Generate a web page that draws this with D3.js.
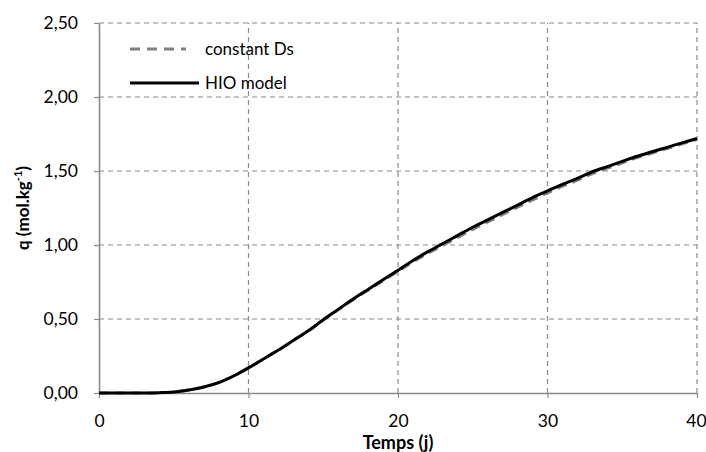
<!DOCTYPE html>
<html>
<head>
<meta charset="utf-8">
<script src="https://cdn.jsdelivr.net/npm/d3@7"></script>
<style>
  body { margin: 0; background: #fff; }
  svg text { font-family: Lato, "Open Sans", sans-serif; fill: #000; }
</style>
</head>
<body>
<svg id="chart"></svg>
<script>
// time (days)
var days = [0, 1, 2, 3, 4, 5, 6, 7, 8, 9, 10, 11, 12, 13, 14, 15, 16, 17, 18, 19, 20,
            21, 22, 23, 24, 25, 26, 27, 28, 29, 30, 31, 32, 33, 34, 35, 36, 37, 38, 39, 40];
// HIO model, q (mol/kg)
var hioModel = [0, 0, 0, 0, 0.002, 0.006, 0.02, 0.04, 0.07, 0.115, 0.17, 0.23, 0.29, 0.355, 0.42, 0.495,
                0.565, 0.635, 0.70, 0.765, 0.83, 0.895, 0.955, 1.01, 1.065, 1.12, 1.17, 1.22, 1.27, 1.32,
                1.365, 1.41, 1.45, 1.495, 1.53, 1.565, 1.60, 1.63, 1.66, 1.69, 1.72];
// constant Ds, q (mol/kg)
var constantDs = [0, 0, 0, 0, 0.002, 0.006, 0.02, 0.04, 0.07, 0.115, 0.17, 0.23, 0.29, 0.355, 0.42, 0.493,
                  0.562, 0.63, 0.695, 0.758, 0.822, 0.885, 0.944, 0.998, 1.052, 1.106, 1.156, 1.206, 1.256, 1.305,
                  1.352, 1.397, 1.438, 1.482, 1.519, 1.555, 1.59, 1.621, 1.652, 1.683, 1.714];
var xTicks = [0, 10, 20, 30, 40];
var yTicks = [0, 0.5, 1, 1.5, 2, 2.5];
var legendLabels = ["constant Ds", "HIO model"];

var width = 706, height = 452;
var leftBorder = 99, rightBorder = 9, topBorder = 23, botBorder = 59;
var gridColor = "#8a8a8a";

var svg = d3.select("#chart").attr("width", width).attr("height", height);

var x = d3.scaleLinear().domain([0, 40]).range([leftBorder, width - rightBorder]);
var y = d3.scaleLinear().domain([0, 2.5]).range([height - botBorder, topBorder]);

var fmt = function (d) { return d3.format(".2f")(d).replace(".", ","); };

// grid
svg.append("g")
    .selectAll("line")
    .data(yTicks.filter(d => d > 0))
    .join("line")
    .attr("x1", x(0)).attr("x2", x(40))
    .attr("y1", d => y(d)).attr("y2", d => y(d))
    .attr("stroke", gridColor).attr("stroke-width", 1.2)
    .attr("stroke-dasharray", "5,4");
svg.append("g")
    .selectAll("line")
    .data(xTicks.filter(d => d > 0))
    .join("line")
    .attr("x1", d => x(d)).attr("x2", d => x(d))
    .attr("y1", y(0)).attr("y2", y(2.5))
    .attr("stroke", gridColor).attr("stroke-width", 1.2)
    .attr("stroke-dasharray", "5,4");

// axes
var yAxis = svg.append("g")
    .attr("transform", "translate(" + leftBorder + ",0)")
    .call(d3.axisLeft(y).tickValues(yTicks).tickFormat(fmt).tickSizeInner(5).tickSizeOuter(0).tickPadding(16));
var xAxis = svg.append("g")
    .attr("transform", "translate(0," + (height - botBorder) + ")")
    .call(d3.axisBottom(x).tickValues(xTicks).tickFormat(d3.format("d")).tickSizeInner(5).tickSizeOuter(0).tickPadding(17));
[xAxis, yAxis].forEach(function (a) {
    a.select(".domain").attr("stroke", gridColor).attr("stroke-width", 1.6);
    a.selectAll(".tick line").attr("stroke", gridColor).attr("stroke-width", 1.2);
    a.selectAll("text").attr("font-size", 17.5).attr("font-family", "Lato, sans-serif");
});
// keep the last x label inside the frame
xAxis.selectAll(".tick text").filter(d => d === 40).attr("dx", "-1");

// series
var line = d3.line()
    .x((d, i) => x(days[i]))
    .y(d => y(d))
    .curve(d3.curveMonotoneX);
svg.append("path")
    .datum(constantDs)
    .attr("fill", "none")
    .attr("stroke", "#808080")
    .attr("stroke-width", 3)
    .attr("stroke-dasharray", "10,6")
    .attr("d", line);
svg.append("path")
    .datum(hioModel)
    .attr("fill", "none")
    .attr("stroke", "#000")
    .attr("stroke-width", 3)
    .attr("stroke-linejoin", "round")
    .attr("d", line);

// legend
var legend = svg.append("g");
legend.append("line")
    .attr("x1", 130).attr("x2", 186).attr("y1", 49).attr("y2", 49)
    .attr("stroke", "#808080").attr("stroke-width", 3).attr("stroke-dasharray", "10,7");
legend.append("text")
    .attr("x", 205).attr("y", 49).attr("dy", "0.35em")
    .attr("font-size", 17).text(legendLabels[0]);
legend.append("line")
    .attr("x1", 130).attr("x2", 199).attr("y1", 83).attr("y2", 83)
    .attr("stroke", "#000").attr("stroke-width", 3);
legend.append("text")
    .attr("x", 205).attr("y", 83).attr("dy", "0.35em")
    .attr("font-size", 17).text(legendLabels[1]);

// axis titles
svg.append("text")
    .attr("x", (x(0) + x(40)) / 2).attr("y", 449)
    .attr("text-anchor", "middle")
    .attr("font-size", 18).attr("font-weight", "bold")
    .text("Temps (j)");
var yTitle = svg.append("text")
    .attr("transform", "translate(29," + ((y(0) + y(2.5)) / 2) + ")rotate(-90)")
    .attr("text-anchor", "middle")
    .attr("font-size", 17).attr("font-weight", "bold");
yTitle.append("tspan").text("q (mol.kg");
yTitle.append("tspan").attr("font-size", 11).attr("dy", "-0.6em").text("-1");
yTitle.append("tspan").attr("dy", "0.4em").text(")");
</script>
</body>
</html>
